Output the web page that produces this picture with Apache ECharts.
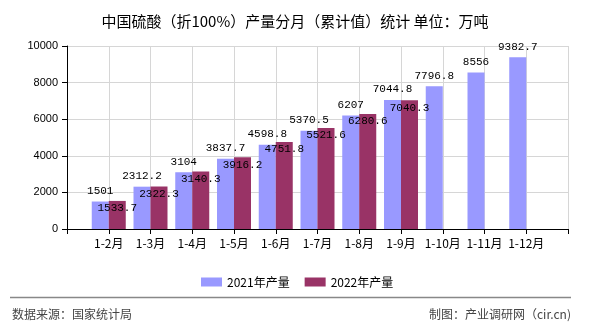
<!DOCTYPE html>
<html>
<head>
<meta charset="utf-8">
<script src="https://cdn.jsdelivr.net/npm/echarts@6/dist/echarts.min.js"></script>
<style>html,body{margin:0;padding:0;background:#fff}#c{width:590px;height:330px}</style>
</head>
<body>
<div id="c"></div>
<script>
var titleText = '中国硫酸（折100%）产量分月（累计值）统计 单位：万吨';
var months = ['1-2月','1-3月','1-4月','1-5月','1-6月','1-7月','1-8月','1-9月','1-10月','1-11月','1-12月'];
var values2021 = [1501, 2312.2, 3104, 3837.7, 4598.8, 5370.5, 6207, 7044.8, 7796.8, 8556, 9382.7];
var values2022 = [1533.7, 2322.3, 3140.3, 3916.2, 4751.8, 5521.6, 6280.6, 7040.3];
var seriesNames = ['2021年产量', '2022年产量'];
var yTicks = [0, 2000, 4000, 6000, 8000, 10000];
var sourceText = '数据来源：国家统计局';
var creditText = '制图：产业调研网（cir.cn)';

function pad(arr) {
  var out = ['-'];
  for (var i = 0; i < months.length; i++) out.push(i < arr.length ? arr[i] : '-');
  out.push('-');
  return out;
}
var cats = [''].concat(months).concat(['']);

var chart = echarts.init(document.getElementById('c'), null, {renderer: 'canvas'});
var labelFont = {fontFamily: 'Liberation Mono', fontSize: 11, color: '#000'};
chart.setOption({
  animation: false,
  title: {
    text: titleText, left: 'center', top: 9,
    textStyle: {fontFamily: 'Noto Sans CJK SC', fontSize: 15, fontWeight: 'normal', color: '#000'}
  },
  legend: {
    data: seriesNames, left: 196, top: 271, itemWidth: 21, itemHeight: 9, itemGap: 15,
    icon: 'rect',
    textStyle: {fontFamily: 'Noto Sans CJK SC', fontSize: 12, color: '#000'}
  },
  grid: {left: 67, right: 22, top: 46, bottom: 101, containLabel: false},
  xAxis: {
    type: 'category', data: cats, boundaryGap: false,
    axisLine: {lineStyle: {color: '#000', width: 1}},
    axisTick: {show: true, length: 5, interval: 0, lineStyle: {color: '#000'}},
    axisLabel: {interval: 0, margin: 8, fontFamily: 'Noto Sans CJK SC', fontSize: 12, color: '#000'},
    splitLine: {show: true, interval: 0, lineStyle: {color: '#d6d6d6'}}
  },
  yAxis: {
    type: 'value', min: yTicks[0], max: yTicks[yTicks.length - 1], interval: 2000,
    axisLine: {show: true, lineStyle: {color: '#000', width: 1}},
    axisTick: {show: true, length: 5, lineStyle: {color: '#000'}},
    axisLabel: {margin: 9, fontFamily: 'Liberation Sans', fontSize: 11, color: '#000',
      formatter: function (v) { return String(v); }},
    splitLine: {show: true, lineStyle: {color: '#d6d6d6'}}
  },
  series: [
    {
      name: seriesNames[0], type: 'bar', data: pad(values2021), barWidth: 17, barGap: '0%',
      itemStyle: {color: '#9999FF'},
      label: Object.assign({show: true, position: 'top', distance: 5}, labelFont)
    },
    {
      name: seriesNames[1], type: 'bar', data: pad(values2022), barWidth: 17, barGap: '0%',
      itemStyle: {color: '#993366'},
      label: Object.assign({show: true, position: 'insideTop', distance: 2}, labelFont)
    }
  ],
  graphic: [
    {type: 'line', shape: {x1: 10, y1: 297.5, x2: 571, y2: 297.5}, style: {stroke: '#888', lineWidth: 1.5}},
    {type: 'text', left: 12, top: 308, style: {text: sourceText, font: '12px "Noto Sans CJK SC"', fill: '#444'}},
    {type: 'text', right: 19, top: 308, style: {text: creditText, font: '12px "Noto Sans CJK SC"', fill: '#444'}}
  ]
});
</script>
</body>
</html>
